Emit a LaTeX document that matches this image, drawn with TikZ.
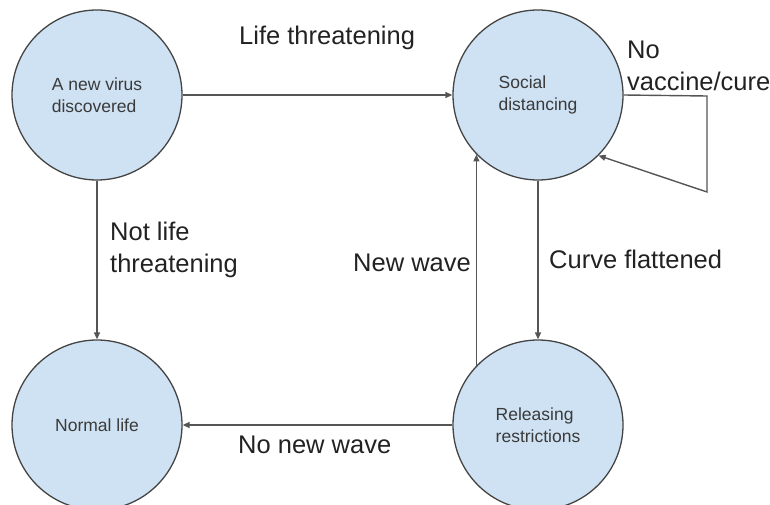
\documentclass[tikz,border=0pt]{standalone}
\usepackage{fontspec}
\setmainfont{Liberation Sans}
\usetikzlibrary{arrows.meta}
\definecolor{stateblue}{HTML}{CFE2F3}
\definecolor{rimgray}{HTML}{444444}
\definecolor{linegray}{HTML}{555555}
\definecolor{txtgray}{HTML}{3A3A3A}
\definecolor{lbl}{HTML}{222222}
\tikzset{
  state/.style={circle, draw=rimgray, line width=1.3pt, fill=stateblue,
    minimum size=170pt, inner sep=0pt, align=left, text=txtgray,
    font=\fontsize{17.5}{21.5}\selectfont},
  conn/.style={draw=linegray, line width=1.4pt,
    -{Triangle[length=7pt,width=6pt]}},
  lab/.style={inner sep=0pt, anchor=base west, align=left, text=lbl,
    font=\fontsize{25.5}{32}\selectfont}
}
\begin{document}
\begin{tikzpicture}[x=1pt,y=-1pt]
\useasboundingbox (0,0) rectangle (770,505);
\node[state] (virus) at (97,95) {A new virus\\discovered};
\node[state] (social) at (538,95) {Social\\distancing};
\node[state] (normal) at (97,425) {Normal life};
\node[state] (release) at (538,425) {Releasing\\restrictions};
\coordinate (loopa) at (707,96);
\coordinate (loopb) at (707,192);
\draw[conn] (virus.east) -- (social.west);
\draw[conn] (virus.south) -- (normal.north);
\draw[conn] (social.south) -- (release.north);
\draw[conn] (release.136) -- (social.224);
\draw[conn] (release.west) -- (normal.east);
\draw[conn] (social.east) -- (loopa) -- (loopb) -- (social.-45);
\node[lab] (l1) at (239,45) {Life threatening};
\node[lab] (l2) at (627,91) {No\\vaccine/cure};
\node[lab] (l3) at (110,272) {Not life\\threatening};
\node[lab] (l4) at (353,271) {New wave};
\node[lab] (l5) at (549,268) {Curve flattened};
\node[lab] (l6) at (238,453) {No new wave};
\end{tikzpicture}
\end{document}
